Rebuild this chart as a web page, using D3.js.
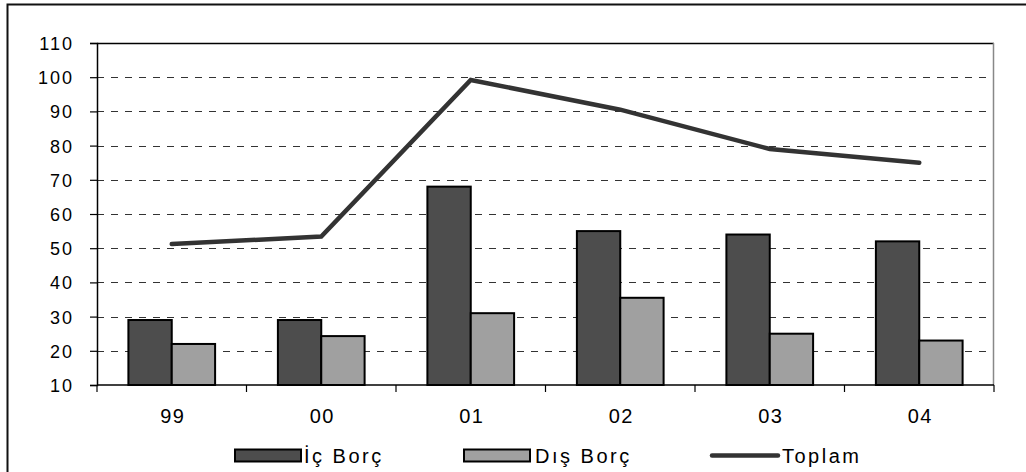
<!DOCTYPE html>
<html>
<head>
<meta charset="utf-8">
<script src="https://cdn.jsdelivr.net/npm/d3@7"></script>
<style>
  body { margin: 0; background: #fff; }
  text { font-family: "Liberation Sans", Arial, sans-serif; fill: #000; }
</style>
</head>
<body>
<div class="chart"></div>
<script>
const years = ["99", "00", "01", "02", "03", "04"];
const icBorc = [29, 29, 68, 55, 54, 52];
const disBorc = [22, 24.3, 31, 35.5, 25, 23];
const toplam = [51.2, 53.4, 99.2, 90.5, 79, 75];
const yTicks = [10, 20, 30, 40, 50, 60, 70, 80, 90, 100, 110];
const legendItems = ["İç Borç", "Dış Borç", "Toplam"];

const W = 1026, H = 472;
const margin = {top: 43, right: 32, bottom: 87, left: 97};
const width = W - margin.left - margin.right,
      height = H - margin.top - margin.bottom;

const svg = d3.select(".chart")
  .append("svg")
    .attr("width", W)
    .attr("height", H);

// outer frame (runs off the right / bottom edge)
svg.append("rect")
  .attr("x", 7.5).attr("y", 4.5)
  .attr("width", 1040).attr("height", 490)
  .attr("fill", "none").attr("stroke", "#111").attr("stroke-width", 2);

const g = svg.append("g")
  .attr("transform", "translate(" + margin.left + "," + margin.top + ")");

const x0 = d3.scaleBand()
  .domain(years)
  .range([0, width])
  .paddingInner(0.42)
  .paddingOuter(0.21);

const x1 = d3.scaleBand()
  .domain(["ic", "dis"])
  .range([0, x0.bandwidth()]);

const y = d3.scaleLinear()
  .domain([10, 110])
  .range([height, 0]);

// dashed grid
g.append("g")
  .selectAll("line")
  .data(yTicks.filter(d => d > 10 && d < 110))
  .enter().append("line")
    .attr("x1", 0).attr("x2", width)
    .attr("y1", d => Math.round(y(d)) + 0.5)
    .attr("y2", d => Math.round(y(d)) + 0.5)
    .attr("stroke", "#333")
    .attr("stroke-dasharray", "7,7");

// plot frame: top solid black, right gray
g.append("line")
  .attr("x1", 0).attr("x2", width)
  .attr("y1", 0.5).attr("y2", 0.5)
  .attr("stroke", "#000").attr("stroke-width", 1.5);
g.append("line")
  .attr("x1", width - 0.5).attr("x2", width - 0.5)
  .attr("y1", 0).attr("y2", height)
  .attr("stroke", "#888").attr("stroke-width", 1.5);

// bars
const groups = g.append("g")
  .selectAll("g")
  .data(years)
  .enter().append("g")
    .attr("transform", d => "translate(" + x0(d) + ",0)");

groups.append("rect")
  .attr("x", x1("ic"))
  .attr("y", (d, i) => y(icBorc[i]))
  .attr("width", x1.bandwidth())
  .attr("height", (d, i) => height - y(icBorc[i]))
  .attr("fill", "#4d4d4d")
  .attr("stroke", "#000").attr("stroke-width", 2);

groups.append("rect")
  .attr("x", x1("dis"))
  .attr("y", (d, i) => y(disBorc[i]))
  .attr("width", x1.bandwidth())
  .attr("height", (d, i) => height - y(disBorc[i]))
  .attr("fill", "#a0a0a0")
  .attr("stroke", "#000").attr("stroke-width", 2);

// total line
const line = d3.line()
  .x((d, i) => x0(years[i]) + x0.bandwidth() / 2)
  .y(d => y(d));

g.append("path")
  .datum(toplam)
  .attr("d", line)
  .attr("fill", "none")
  .attr("stroke", "#333")
  .attr("stroke-width", 4.5)
  .attr("stroke-linecap", "round")
  .attr("stroke-linejoin", "miter");

// y axis
const yAxis = g.append("g")
  .call(d3.axisLeft(y).tickValues(yTicks).tickSize(7).tickPadding(16))
  .attr("font-size", null).attr("font-family", null);
yAxis.select(".domain").attr("stroke", "#000").attr("stroke-width", 1.5);
yAxis.selectAll(".tick line").attr("stroke", "#000").attr("stroke-width", 1.2);
yAxis.selectAll(".tick text")
  .style("font-size", "18px")
  .style("letter-spacing", "2px")
  .attr("dy", "0.36em");

// x axis: ticks on band edges
const xAxis = g.append("g")
  .attr("transform", "translate(0," + height + ")");
xAxis.append("line")
  .attr("x1", 0).attr("x2", width)
  .attr("y1", 0).attr("y2", 0)
  .attr("stroke", "#000").attr("stroke-width", 1.5);
xAxis.selectAll(".edge")
  .data(years.map(d => x0(d) - x0.step() * x0.paddingOuter()).concat([width]))
  .enter().append("line")
    .attr("class", "edge")
    .attr("x1", d => d).attr("x2", d => d)
    .attr("y1", 0).attr("y2", 7)
    .attr("stroke", "#000").attr("stroke-width", 1.2);
xAxis.selectAll("text")
  .data(years)
  .enter().append("text")
    .attr("x", d => x0(d) + x0.bandwidth() / 2 + 1)
    .attr("y", 38)
    .attr("text-anchor", "middle")
    .style("font-size", "20px")
    .style("letter-spacing", "1.5px")
    .text(d => d);

// legend
const legend = svg.append("g");
const legX = [235, 464, 712];
const legTextX = [304, 535, 782];

legend.append("rect")
  .attr("x", legX[0]).attr("y", 449.5)
  .attr("width", 66).attr("height", 12)
  .attr("fill", "#4d4d4d").attr("stroke", "#000").attr("stroke-width", 2);
legend.append("rect")
  .attr("x", legX[1]).attr("y", 449.5)
  .attr("width", 66).attr("height", 12)
  .attr("fill", "#a0a0a0").attr("stroke", "#000").attr("stroke-width", 2);
legend.append("line")
  .attr("x1", legX[2]).attr("x2", legTextX[2] - 4)
  .attr("y1", 455.5).attr("y2", 455.5)
  .attr("stroke", "#333").attr("stroke-width", 4.5)
  .attr("stroke-linecap", "round");

legend.selectAll("text")
  .data(legendItems)
  .enter().append("text")
    .attr("x", (d, i) => legTextX[i])
    .attr("y", 463)
    .style("font-size", "20px")
    .style("letter-spacing", "2.5px")
    .text(d => d);
</script>
</body>
</html>
